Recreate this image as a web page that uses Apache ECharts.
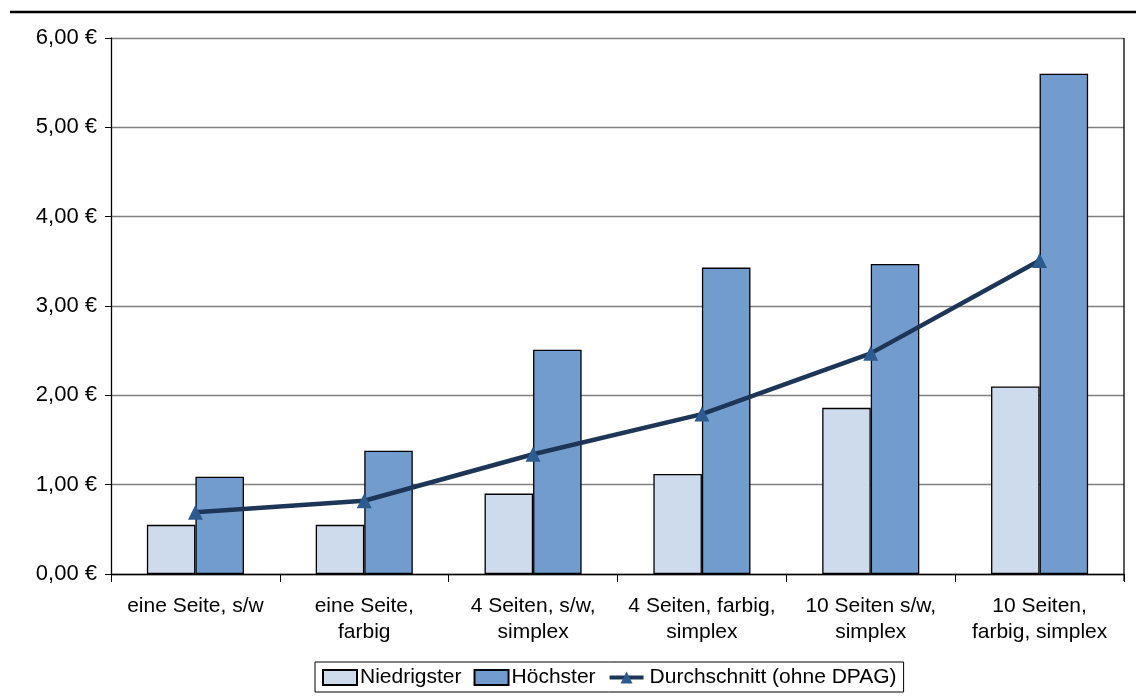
<!DOCTYPE html>
<html>
<head>
<meta charset="utf-8">
<script src="https://cdn.jsdelivr.net/npm/echarts@6/dist/echarts.min.js"></script>
<style>
html,body{margin:0;padding:0;background:#fff;}
#main{width:1136px;height:699px;}
</style>
</head>
<body>
<div id="main"></div>
<script>
const categories = ['eine Seite, s/w', 'eine Seite,\nfarbig', '4 Seiten, s/w,\nsimplex', '4 Seiten, farbig,\nsimplex', '10 Seiten s/w,\nsimplex', '10 Seiten,\nfarbig, simplex'];
const niedrigster = [0.55, 0.55, 0.90, 1.12, 1.86, 2.10];
const hoechster = [1.09, 1.38, 2.51, 3.43, 3.47, 5.60];
const durchschnitt = [0.69, 0.82, 1.34, 1.79, 2.47, 3.51];
const seriesNames = ['Niedrigster', 'Höchster', 'Durchschnitt (ohne DPAG)'];

const FONT = '"Liberation Sans", Arial, sans-serif';
const chart = echarts.init(document.getElementById('main'));
const gridLeft = 111, gridRight = 12, gridTop = 38, gridBottom = 125;

chart.setOption({
  animation: false,
  textStyle: { fontFamily: FONT, color: '#000' },
  grid: { left: gridLeft, right: gridRight, top: gridTop, bottom: gridBottom, containLabel: false },
  legend: {
    data: [
      { name: seriesNames[0], icon: 'rect' },
      { name: seriesNames[1], icon: 'rect' },
      { name: seriesNames[2], lineStyle: { width: 4, color: '#1D3658' }, textStyle: { padding: [0, 18, 0, 1] } }
    ],
    left: 315,
    top: 662,
    padding: [5, 7, 4, 7],
    borderColor: '#000',
    borderWidth: 1,
    itemGap: 12,
    itemWidth: 34,
    itemHeight: 15,
    textStyle: { fontFamily: FONT, fontSize: 21, color: '#000', padding: [0, 0, 0, -2] }
  },
  xAxis: {
    type: 'category',
    data: categories,
    axisLine: { show: true, lineStyle: { color: '#000', width: 1.3 } },
    axisTick: { show: true, length: 8, lineStyle: { color: '#000', width: 1 } },
    axisLabel: { fontFamily: FONT, fontSize: 21, color: '#000', lineHeight: 26, margin: 19, interval: 0 },
    splitLine: { show: false }
  },
  yAxis: {
    type: 'value',
    min: 0, max: 6, interval: 1,
    axisLine: { show: true, lineStyle: { color: '#000', width: 1.3 } },
    axisTick: { show: true, length: 6, lineStyle: { color: '#000', width: 1 } },
    axisLabel: {
      fontFamily: FONT, fontSize: 22, color: '#000', margin: 14,
      formatter: v => v.toFixed(2).replace('.', ',') + ' €'
    },
    splitLine: { show: true, lineStyle: { color: '#808080', width: 1.3 } }
  },
  graphic: [
    { type: 'line', shape: { x1: 10, y1: 12, x2: 1136, y2: 12 }, style: { stroke: '#000', lineWidth: 2.5 }, z: 100 },
    { type: 'line', shape: { x1: 1136 - gridRight, y1: gridTop, x2: 1136 - gridRight, y2: 699 - gridBottom + 7 }, style: { stroke: '#000', lineWidth: 1.3 }, z: 100 }
  ],
  series: [
    {
      name: seriesNames[0], type: 'bar', data: niedrigster,
      barGap: '0%', barCategoryGap: '42.5%',
      itemStyle: { color: '#CEDBEC', borderColor: '#000', borderWidth: 1.3 }
    },
    {
      name: seriesNames[1], type: 'bar', data: hoechster,
      barGap: '0%', barCategoryGap: '42.5%',
      itemStyle: { color: '#739CCE', borderColor: '#000', borderWidth: 1.3 }
    },
    {
      name: seriesNames[2], type: 'line', data: durchschnitt,
      symbol: 'triangle', symbolSize: 15, showSymbol: true,
      lineStyle: { color: '#1D3658', width: 4.5 },
      itemStyle: { color: '#2D5B8F', borderWidth: 0 },
      z: 5
    }
  ]
});
</script>
</body>
</html>
